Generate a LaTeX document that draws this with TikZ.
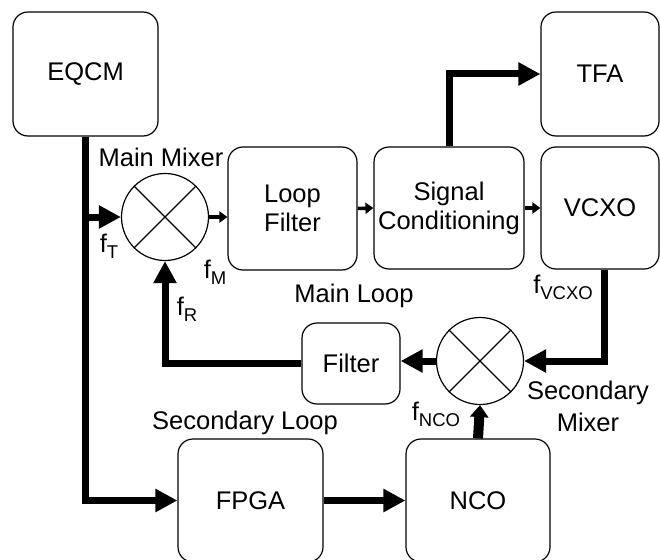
\documentclass[tikz,border=0pt]{standalone}
\usepackage{fontspec}
\setmainfont{Liberation Sans}
\usetikzlibrary{arrows.meta}

\newcommand{\subf}[1]{\raisebox{-6pt}{\fontsize{18.5}{18.5}\selectfont #1}}

\tikzset{
  bloque/.style={draw, line width=1.2pt, rounded corners=15pt, inner sep=0pt,
    align=center, font=\fontsize{25.5}{29}\selectfont},
  mezclador/.style={draw, circle, line width=1.2pt, minimum size=87pt, inner sep=0pt},
  etiqueta/.style={inner sep=0pt, align=center, font=\fontsize{25.5}{32}\selectfont},
  grueso/.style={line width=7pt, -{Triangle[length=22pt,width=22pt]}},
  fino/.style={line width=3.5pt, -{Triangle[length=8pt,width=11pt]}},
}

\begin{document}
\begin{tikzpicture}[x=1pt, y=-1pt]
    \useasboundingbox (0,0) rectangle (660,559);

    % Bloques
    \node[bloque, minimum width=145pt, minimum height=124pt] (eqcm) at (85.5,74) {EQCM};
    \node[bloque, minimum width=118pt, minimum height=124pt] (tfa) at (600,74) {TFA};
    \node[bloque, minimum width=129pt, minimum height=123pt] (loopf) at (292.5,208.5) {Loop\\Filter};
    \node[bloque, minimum width=150pt, minimum height=122pt] (sigc) at (449,208) {Signal\\Conditioning};
    \node[bloque, minimum width=118pt, minimum height=122pt] (vcxo) at (600,208) {VCXO};
    \node[bloque, minimum width=98pt, minimum height=81pt] (filt) at (351,363.5) {Filter};
    \node[bloque, minimum width=145pt, minimum height=123pt] (fpga) at (250.5,500.5) {FPGA};
    \node[bloque, minimum width=144pt, minimum height=123pt] (nco) at (478,500.5) {NCO};

    % Mezcladores
    \node[mezclador] (mix1) at (165,217) {};
    \node[mezclador] (mix2) at (480,361) {};
    \draw[line width=1.2pt] (mix1.north west) -- (mix1.south east)
                            (mix1.north east) -- (mix1.south west);
    \draw[line width=1.2pt] (mix2.north west) -- (mix2.south east)
                            (mix2.north east) -- (mix2.south west);

    % Conexiones
    \coordinate (tap) at (eqcm.south |- mix1.west);
    \draw[grueso] (eqcm.south) |- (fpga.west);
    \draw[grueso] (tap) -- (mix1.west);
    \draw[fino] (mix1.east) -- (mix1.east -| loopf.west);
    \draw[fino] (loopf.east) -- (sigc.west);
    \draw[fino] (sigc.east) -- (vcxo.west);
    \draw[grueso] (sigc.north) |- (tfa.west);
    \draw[grueso] ([xshift=4pt]vcxo.south) |- (mix2.east);
    \draw[grueso] (mix2.west) -- (mix2.west -| filt.east);
    \draw[grueso] (filt.west) -| (mix1.south);
    \draw[grueso] (fpga.east) -- (nco.west);
    \draw[line width=10pt, -{Triangle[length=12pt,width=18pt]}] (nco.north) -- (mix2.south);

    % Etiquetas
    \node[etiqueta] (lmix1) at (161,157) {Main Mixer};
    \node[etiqueta] (lmain) at (354,296) {Main Loop};
    \node[etiqueta] (lsec) at (245,423) {Secondary Loop};
    \node[etiqueta] (lmix2) at (588,406) {Secondary\\Mixer};
    \node[etiqueta] (ft) at (109,246) {f\subf{T}};
    \node[etiqueta] (fm) at (215,272) {f\subf{M}};
    \node[etiqueta] (fr) at (187,309) {f\subf{R}};
    \node[etiqueta] (fvcxo) at (563,287) {f\subf{VCXO}};
    \node[etiqueta] (fnco) at (436,414) {f\subf{NCO}};
\end{tikzpicture}
\end{document}
